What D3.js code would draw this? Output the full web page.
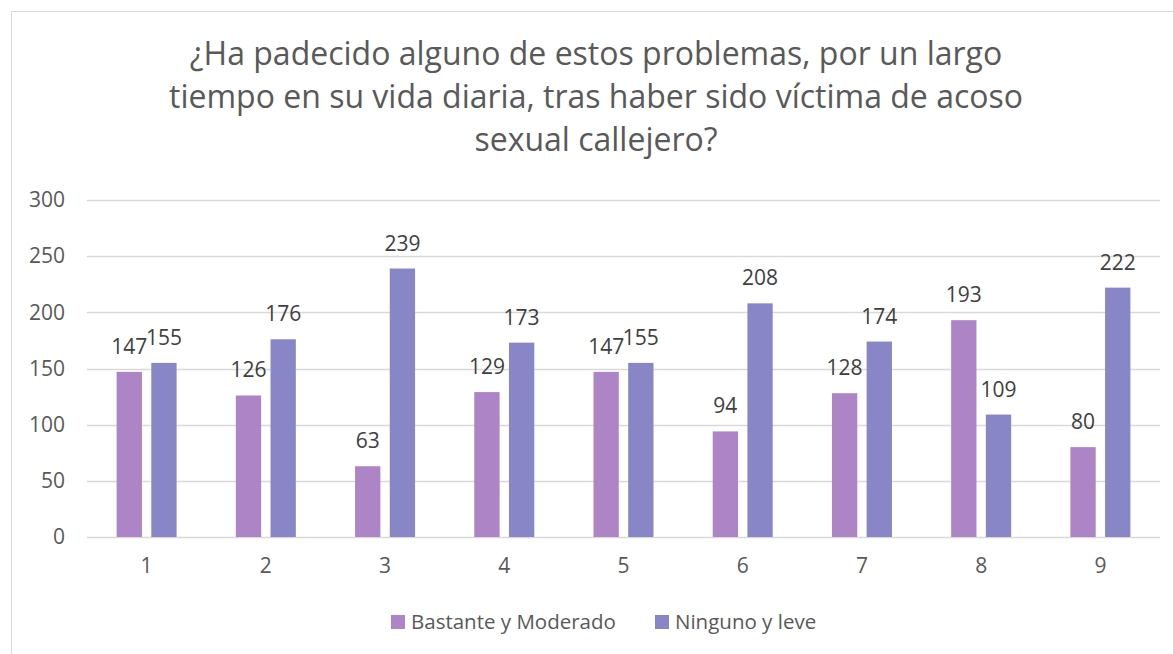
<!DOCTYPE html>
<html>
<head>
<meta charset="utf-8">
<script src="https://cdn.jsdelivr.net/npm/d3@7"></script>
<style>
  body { margin: 0; background: #fff; }
  svg { font-family: "Open Sans", sans-serif; }
</style>
</head>
<body>
<svg width="1173" height="654"></svg>
<script>
var categories = ["1", "2", "3", "4", "5", "6", "7", "8", "9"];
var bastante = [147, 126, 63, 129, 147, 94, 128, 193, 80];
var ninguno = [155, 176, 239, 173, 155, 208, 174, 109, 222];
var seriesNames = ["Bastante y Moderado", "Ninguno y leve"];
var colors = ["#ad84c5", "#8886c6"];
var yTicks = [0, 50, 100, 150, 200, 250, 300];
var titleLines = [
  "¿Ha padecido alguno de estos problemas, por un largo",
  "tiempo en su vida diaria, tras haber sido víctima de acoso",
  "sexual callejero?"
];

var svg = d3.select("svg"),
    margin = {top: 200, right: 13, bottom: 117, left: 87},
    width = +svg.attr("width") - margin.left - margin.right,
    height = +svg.attr("height") - margin.top - margin.bottom;

// chart frame
svg.append("rect")
    .attr("x", 11.5).attr("y", 11.5)
    .attr("width", 1180).attr("height", 660)
    .attr("fill", "none")
    .attr("stroke", "#d9d9d9");

svg.append("g")
    .selectAll("text")
    .data(titleLines)
    .enter().append("text")
      .attr("x", 596)
      .attr("y", function(d, i) { return 65 + i * 43; })
      .attr("text-anchor", "middle")
      .attr("font-size", "32px")
      .attr("fill", "#595959")
      .text(function(d) { return d; });

var x = d3.scaleBand().domain(categories).range([0, width]);
var x1 = d3.scaleBand().domain([0, 1]).range([0, 60]).paddingInner(0.27);
var y = d3.scaleLinear().domain([0, 300]).range([height, 0]);

var g = svg.append("g")
    .attr("transform", "translate(" + margin.left + "," + margin.top + ")");

g.append("g")
    .selectAll("line")
    .data(yTicks)
    .enter().append("line")
      .attr("x1", 0).attr("x2", width)
      .attr("y1", function(d) { return Math.round(y(d)) + 0.5; })
      .attr("y2", function(d) { return Math.round(y(d)) + 0.5; })
      .attr("stroke", "#d9d9d9")
      .attr("stroke-width", 1.5);

var yAxis = g.append("g")
    .call(d3.axisLeft(y).tickValues(yTicks).tickSize(0).tickPadding(22));
yAxis.select(".domain").remove();
yAxis.selectAll("text")
    .attr("font-size", "21px")
    .attr("font-family", "'Open Sans', sans-serif")
    .attr("fill", "#595959");

var xAxis = g.append("g")
    .attr("transform", "translate(0," + height + ")")
    .call(d3.axisBottom(x).tickSize(0).tickPadding(21));
xAxis.select(".domain").remove();
xAxis.selectAll("text")
    .attr("font-size", "21px")
    .attr("font-family", "'Open Sans', sans-serif")
    .attr("fill", "#595959");

var series = [bastante, ninguno];
series.forEach(function(vals, s) {
  var grp = g.append("g");
  grp.selectAll("rect")
    .data(vals)
    .enter().append("rect")
      .attr("x", function(d, i) { return x(categories[i]) + x.bandwidth() / 2 - 30 + x1(s); })
      .attr("y", function(d) { return y(d); })
      .attr("width", x1.bandwidth())
      .attr("height", function(d) { return height - y(d); })
      .attr("fill", colors[s]);
  grp.selectAll("text")
    .data(vals)
    .enter().append("text")
      .attr("x", function(d, i) { return x(categories[i]) + x.bandwidth() / 2 - 30 + x1(s) + x1.bandwidth() / 2; })
      .attr("y", function(d) { return y(d) - 18; })
      .attr("text-anchor", "middle")
      .attr("font-size", "21px")
      .attr("fill", "#404040")
      .text(function(d) { return d; });
});

var legend = svg.append("g").attr("transform", "translate(391,615)");
var lx = [0, 264];
seriesNames.forEach(function(name, i) {
  var it = legend.append("g").attr("transform", "translate(" + lx[i] + ",0)");
  it.append("rect").attr("width", 14).attr("height", 14).attr("fill", colors[i]);
  it.append("text")
    .attr("x", 20).attr("y", 14)
    .attr("font-size", "20.5px")
    .attr("fill", "#595959")
    .text(name);
});
</script>
</body>
</html>
